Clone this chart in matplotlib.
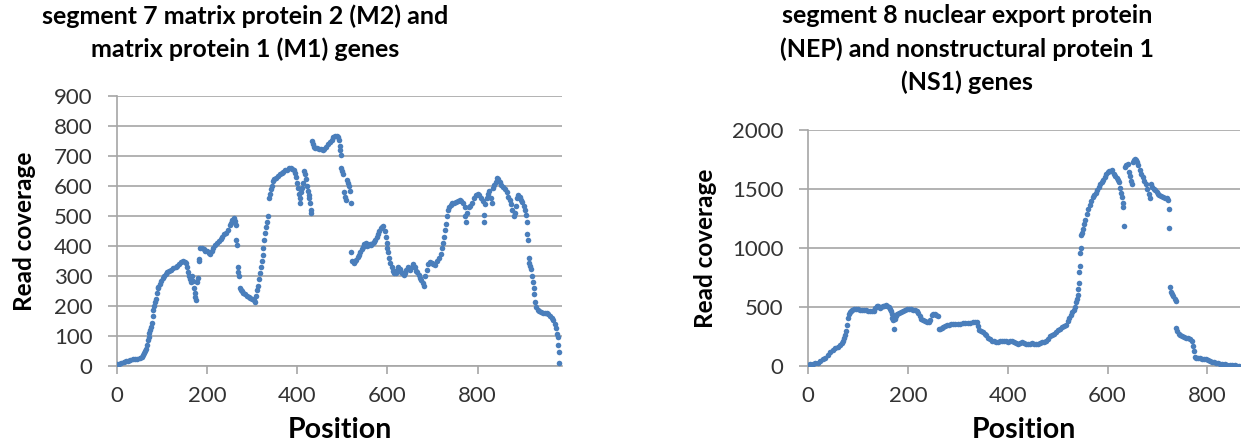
import matplotlib.pyplot as plt

# segment 7 (M2 / M1) read coverage per position
seg7_pos = [0, 5, 10, 15, 20, 25, 30, 35, 40, 45, 50, 55, 58, 60, 62, 64, 66, 68, 70, 72, 74, 76, 78, 80, 81, 83, 85, 86, 88, 90,
            92, 95, 98, 101, 104, 108, 112, 116, 120, 125, 130, 134, 138, 142, 146, 150, 153, 156, 158, 160, 162, 164, 166, 168,
            170, 172, 174, 175, 177, 179, 181, 183, 185, 188, 192, 196, 200, 204, 207, 210, 214, 218, 222, 226, 230, 234, 238,
            242, 246, 250, 253, 256, 259, 262, 264, 265, 266, 268, 269, 270, 272, 274, 277, 280, 284, 288, 292, 296, 300, 304,
            307, 309, 311, 313, 315, 317, 319, 321, 323, 325, 327, 329, 331, 333, 335, 337, 339, 341, 343, 346, 349, 353, 357,
            361, 365, 369, 373, 377, 381, 385, 389, 392, 395, 397, 399, 401, 403, 405, 407, 409, 411, 413, 415, 417, 419, 421,
            423, 425, 427, 429, 430, 431, 433, 435, 437, 440, 444, 448, 452, 456, 460, 464, 468, 472, 476, 480, 484, 487, 490,
            492, 494, 495, 496, 498, 500, 502, 504, 506, 508, 510, 512, 514, 516, 518, 520, 522, 525, 528, 531, 534, 537, 540,
            543, 546, 549, 552, 555, 558, 561, 564, 567, 570, 573, 576, 579, 582, 585, 588, 591, 594, 596, 598, 600, 602, 604,
            606, 609, 612, 615, 618, 621, 624, 627, 630, 633, 636, 639, 642, 645, 648, 651, 654, 657, 660, 663, 666, 669, 672,
            675, 678, 681, 684, 687, 690, 694, 698, 702, 706, 710, 714, 718, 721, 723, 725, 727, 729, 731, 734, 737, 740, 744,
            748, 752, 756, 760, 764, 768, 771, 773, 775, 777, 780, 784, 788, 792, 796, 800, 804, 808, 811, 813, 815, 817, 820,
            823, 826, 829, 832, 834, 837, 840, 843, 846, 849, 852, 856, 860, 864, 868, 871, 874, 877, 880, 882, 884, 887, 890,
            893, 896, 899, 902, 905, 907, 909, 910, 911, 913, 914, 916, 918, 920, 922, 924, 926, 928, 930, 933, 937, 941, 945,
            949, 953, 957, 961, 965, 968, 971, 974, 976, 978, 979, 980, 981]
seg7_cov = [5, 8, 10, 12, 15, 18, 20, 22, 23, 24, 26, 30, 35, 42, 50, 58, 70, 85, 98, 110, 120, 130, 142, 165, 185, 200, 215, 225, 245, 260,
            265, 272, 283, 292, 300, 308, 312, 318, 320, 326, 330, 334, 340, 346, 350, 348, 342, 330, 315, 300, 290, 280, 300, 285,
            260, 245, 230, 220, 280, 295, 350, 358, 392, 395, 390, 385, 382, 378, 375, 385, 395, 403, 410, 418, 425, 430, 440,
            445, 455, 470, 478, 488, 492, 485, 470, 420, 405, 330, 315, 300, 260, 255, 250, 245, 240, 235, 230, 228, 225, 220,
            215, 235, 252, 268, 290, 310, 330, 350, 370, 395, 420, 445, 465, 480, 500, 560, 575, 590, 600, 618, 625, 628, 632,
            640, 645, 648, 652, 655, 660, 660, 658, 655, 645, 630, 610, 595, 575, 545, 560, 580, 595, 610, 650, 640, 625, 600,
            585, 570, 560, 545, 520, 510, 750, 740, 730, 728, 728, 725, 722, 720, 722, 730, 740, 748, 755, 762, 766, 767, 763,
            752, 735, 720, 705, 660, 650, 640, 580, 565, 555, 620, 610, 600, 585, 545, 380, 350, 345, 350, 355, 362, 370, 380,
            390, 398, 408, 410, 400, 405, 408, 403, 410, 415, 420, 430, 440, 450, 460, 465, 468, 450, 430, 410, 395, 380, 360,
            345, 330, 318, 310, 310, 320, 330, 322, 315, 310, 305, 310, 320, 330, 325, 320, 330, 340, 330, 318, 312, 305, 295,
            288, 278, 268, 300, 320, 340, 348, 345, 340, 338, 350, 360, 372, 395, 410, 430, 455, 475, 500, 520, 530, 538, 542,
            545, 548, 550, 552, 550, 545, 530, 500, 480, 510, 530, 535, 545, 560, 570, 575, 570, 560, 550, 505, 480, 540, 560,
            575, 585, 560, 545, 595, 605, 615, 628, 625, 615, 605, 598, 590, 580, 565, 552, 540, 520, 500, 510, 535, 560, 570,
            565, 555, 548, 535, 520, 505, 480, 440, 420, 360, 345, 335, 325, 300, 280, 260, 240, 215, 195, 185, 182, 180, 178,
            177, 175, 172, 166, 160, 152, 140, 125, 105, 95, 70, 45, 10]

# segment 8 (NEP / NS1) read coverage per position
seg8_pos = [0, 5, 10, 15, 20, 25, 30, 35, 40, 45, 50, 55, 60, 64, 68, 71, 73, 75, 77, 79, 80, 82, 84, 86, 89, 93, 97, 101, 105, 109,
            113, 117, 121, 125, 129, 132, 135, 138, 141, 144, 147, 150, 153, 156, 159, 162, 164, 166, 168, 169, 170, 172, 174,
            176, 179, 182, 186, 190, 194, 198, 202, 206, 210, 214, 218, 221, 224, 227, 230, 234, 238, 242, 245, 248, 251, 254,
            257, 260, 262, 265, 268, 271, 274, 278, 282, 286, 290, 295, 300, 305, 310, 315, 320, 325, 330, 335, 338, 340, 343,
            346, 350, 354, 357, 360, 364, 368, 372, 376, 380, 384, 388, 392, 396, 400, 404, 408, 412, 416, 420, 424, 428, 432,
            436, 440, 444, 448, 452, 456, 460, 464, 468, 472, 476, 480, 484, 488, 492, 496, 500, 504, 508, 512, 516, 520, 523,
            526, 529, 532, 535, 537, 539, 540, 541, 542, 543, 544, 545, 546, 547, 548, 550, 552, 555, 558, 561, 564, 567, 570,
            573, 576, 579, 582, 585, 588, 591, 594, 597, 600, 603, 606, 609, 612, 615, 618, 621, 623, 625, 627, 629, 630, 631,
            632, 634, 637, 640, 642, 644, 646, 648, 650, 652, 654, 656, 658, 661, 664, 667, 670, 673, 676, 679, 682, 684, 686,
            689, 692, 695, 698, 701, 704, 707, 711, 715, 719, 722, 723, 724, 725, 727, 729, 732, 735, 737, 738, 740, 743, 746,
            750, 754, 758, 762, 766, 769, 771, 773, 775, 777, 781, 785, 789, 793, 797, 801, 805, 809, 813, 817, 821, 825, 830,
            835, 840, 845, 850, 855, 860, 863]
seg8_cov = [10, 15, 18, 22, 28, 40, 55, 70, 95, 115, 135, 150, 160, 175, 195, 215, 240, 260, 300, 350, 410, 440, 455, 470, 478, 480, 480,
            480, 478, 478, 476, 475, 470, 465, 462, 470, 490, 510, 505, 495, 500, 505, 510, 515, 510, 500, 485, 470, 440, 410,
            390, 310, 400, 420, 440, 450, 460, 470, 475, 480, 480, 482, 478, 475, 470, 450, 420, 400, 390, 380, 370, 370, 390,
            430, 440, 440, 435, 425, 310, 315, 320, 330, 340, 345, 350, 355, 358, 360, 360, 360, 362, 362, 365, 368, 370, 372,
            370, 340, 305, 295, 285, 275, 260, 240, 225, 215, 210, 205, 205, 208, 212, 215, 210, 205, 210, 212, 205, 195, 190,
            195, 205, 195, 188, 185, 188, 192, 190, 185, 190, 195, 200, 200, 215, 232, 250, 262, 275, 290, 305, 315, 328, 338,
            350, 385, 410, 430, 455, 475, 500, 540, 570, 600, 650, 700, 800, 850, 960, 1000, 1110, 1130, 1160, 1200, 1240, 1290,
            1330, 1365, 1400, 1430, 1450, 1470, 1490, 1520, 1540, 1560, 1575, 1600, 1630, 1640, 1650, 1655, 1660, 1630, 1610,
            1595, 1580, 1560, 1510, 1470, 1430, 1380, 1350, 1190, 1690, 1700, 1710, 1640, 1610, 1570, 1540, 1730, 1745, 1755,
            1750, 1725, 1700, 1660, 1630, 1600, 1570, 1540, 1500, 1460, 1420, 1540, 1520, 1500, 1490, 1475, 1460, 1450, 1440,
            1430, 1425, 1420, 1410, 1330, 1170, 670, 630, 610, 590, 570, 550, 320, 300, 275, 260, 250, 245, 240, 235, 225, 210,
            170, 130, 80, 70, 68, 65, 62, 58, 55, 50, 42, 35, 30, 25, 22, 20, 18, 15, 12, 10, 8, 5, 3, 2]

plt.rcParams['font.family'] = ['Lato', 'DejaVu Sans']

fig = plt.figure(figsize=(12.43, 4.44), dpi=100)
ax1 = fig.add_axes([0.0941, 0.1757, 0.358, 0.608])
ax2 = fig.add_axes([0.650, 0.1757, 0.3475, 0.5315])

panels = [
    (ax1, seg7_pos, seg7_cov, 987, 900, 100, -0.182),
    (ax2, seg8_pos, seg8_cov, 865, 2000, 500, -0.211),
]
for ax, pos, cov, xmax, ymax, ystep, ylab_x in panels:
    ax.scatter(pos, cov, s=16, color='#4a7ebb', linewidths=0, zorder=3)
    ax.set_xlim(0, xmax)
    ax.set_ylim(0, ymax)
    ax.set_xticks(range(0, 801, 200))
    ax.set_yticks(range(0, ymax + 1, ystep))
    ax.grid(axis='y', color='#a6a6a6', linewidth=1.2)
    ax.set_axisbelow(True)
    for side in ['top', 'right']:
        ax.spines[side].set_visible(False)
    for side in ['left', 'bottom']:
        ax.spines[side].set_color('#a6a6a6')
        ax.spines[side].set_linewidth(1.2)
    ax.tick_params(axis='both', colors='#a6a6a6', labelcolor='#333333', labelsize=16, width=1.2)
    ax.tick_params(axis='x', length=5.5, pad=9)
    ax.tick_params(axis='y', length=6.5, pad=11)
    ax.set_xlabel('Position', fontsize=20.5, fontweight='bold', labelpad=8)
    ax.set_ylabel('Read coverage', fontsize=17.5, fontweight='bold')
    ax.yaxis.set_label_coords(ylab_x, 0.5)

fig.text(0.197, 0.99, 'segment 7 matrix protein 2 (M2) and\nmatrix protein 1 (M1) genes',
         ha='center', va='top', fontsize=18, fontweight='bold', linespacing=1.5)
fig.text(0.778, 0.99, 'segment 8 nuclear export protein\n(NEP) and nonstructural protein 1\n(NS1) genes',
         ha='center', va='top', fontsize=18, fontweight='bold', linespacing=1.5)

fig.savefig('out.png', dpi=100)
